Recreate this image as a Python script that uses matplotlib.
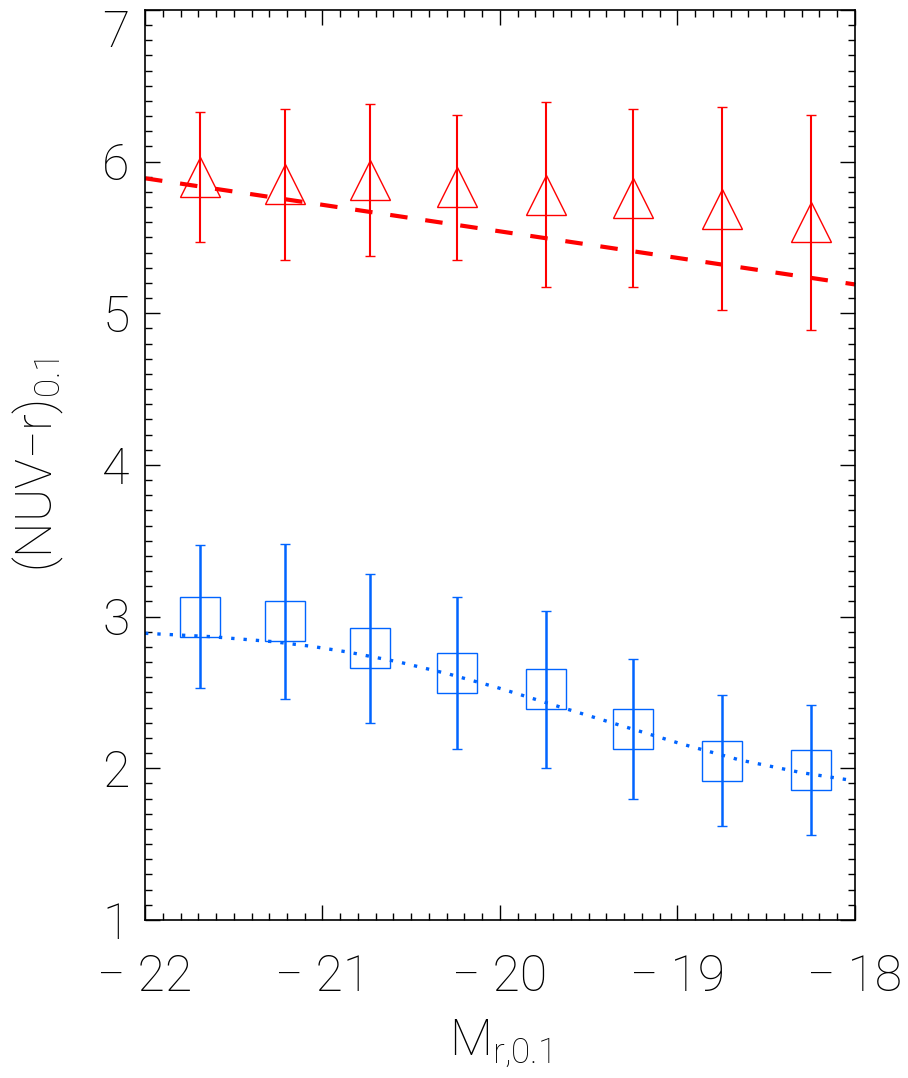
import matplotlib
matplotlib.use('Agg')
import matplotlib.pyplot as plt
from matplotlib.ticker import MultipleLocator

# magnitude bins (M_r at z=0.1)
mag = [-21.69, -21.21, -20.73, -20.24, -19.74, -19.25, -18.75, -18.25]

# red sequence: mean colour and scatter per bin
red_col = [5.90, 5.85, 5.88, 5.83, 5.78, 5.76, 5.69, 5.60]
red_err = [0.43, 0.50, 0.50, 0.48, 0.61, 0.59, 0.67, 0.71]

# blue cloud: mean colour and scatter per bin
blue_col = [3.00, 2.97, 2.79, 2.63, 2.52, 2.26, 2.05, 1.99]
blue_err = [0.47, 0.51, 0.49, 0.50, 0.52, 0.46, 0.43, 0.43]

# fitted colour-magnitude relations
red_fit_mag = [-22.0, -18.0]
red_fit_col = [5.89, 5.19]
blue_fit_mag = [-22.0, -21.63, -21.28, -21.06, -20.85, -20.57, -20.29,
                -20.02, -19.68, -19.33, -18.99, -18.65, -18.30, -18.0]
blue_fit_col = [2.89, 2.868, 2.835, 2.804, 2.765, 2.701, 2.622,
                2.534, 2.411, 2.286, 2.165, 2.055, 1.971, 1.917]

RED = '#ff0000'
BLUE = '#0064ff'

plt.rcParams['font.family'] = ['Roboto', 'DejaVu Sans']
plt.rcParams['font.weight'] = 'light'
plt.rcParams['axes.labelweight'] = 'light'
plt.rcParams['mathtext.fontset'] = 'custom'
plt.rcParams['mathtext.rm'] = 'Roboto:light'
plt.rcParams['mathtext.it'] = 'Roboto:light'
plt.rcParams['mathtext.default'] = 'rm'

fig = plt.figure(figsize=(9.08, 10.78), dpi=100)
ax = fig.add_axes([0.1597, 0.1466, 0.7819, 0.8442])

# fits
ax.plot(red_fit_mag, red_fit_col, color=RED, lw=3, linestyle=(0, (4.2, 4.3)),
        dash_capstyle='butt')
ax.plot(blue_fit_mag, blue_fit_col, color=BLUE, lw=2.4, linestyle=(0, (1, 2.7)),
        dash_capstyle='butt')

# binned points with scatter
ax.errorbar(mag, red_col, yerr=red_err, fmt='^', ms=28.5, mfc='none', mec=RED,
            mew=1.0, ecolor=RED, elinewidth=1.5, capsize=3.5, capthick=1.5)
ax.errorbar(mag, blue_col, yerr=blue_err, fmt='s', ms=29, mfc='none', mec=BLUE,
            mew=1.0, ecolor=BLUE, elinewidth=1.8, capsize=3.5, capthick=1.8)

ax.set_xlim(-22, -18)
ax.set_ylim(1, 7)
ax.xaxis.set_major_locator(MultipleLocator(1))
ax.xaxis.set_minor_locator(MultipleLocator(0.1))
ax.yaxis.set_major_locator(MultipleLocator(1))
ax.yaxis.set_minor_locator(MultipleLocator(0.1))
ax.tick_params(which='both', direction='in', top=True, right=True,
               width=1.0, color='black')
ax.tick_params(which='major', length=11)
ax.tick_params(which='minor', length=5)
ax.tick_params(axis='x', which='major', pad=24, labelsize=36)
ax.tick_params(axis='y', which='major', pad=11, labelsize=36)
for s in ax.spines.values():
    s.set_linewidth(1.2)

ax.set_xticks([-22, -21, -20, -19, -18])
ax.set_xticklabels(['\u2212 22', '\u2212 21', '\u2212 20', '\u2212 19', '\u2212 18'])
ax.set_yticks([1, 2, 3, 4, 5, 6, 7])
ax.set_yticklabels(['1', '2', '3', '4', '5', '6', '7'])
ax.get_yticklabels()[-1].set_va('top')

ax.set_xlabel(r'$M_{r{,}0.1}$', fontsize=36, labelpad=12)
ax.set_ylabel('(NUV\u2212r)$_{0.1}$', fontsize=36, fontweight='light', labelpad=26)

fig.savefig('out.png', dpi=100)
